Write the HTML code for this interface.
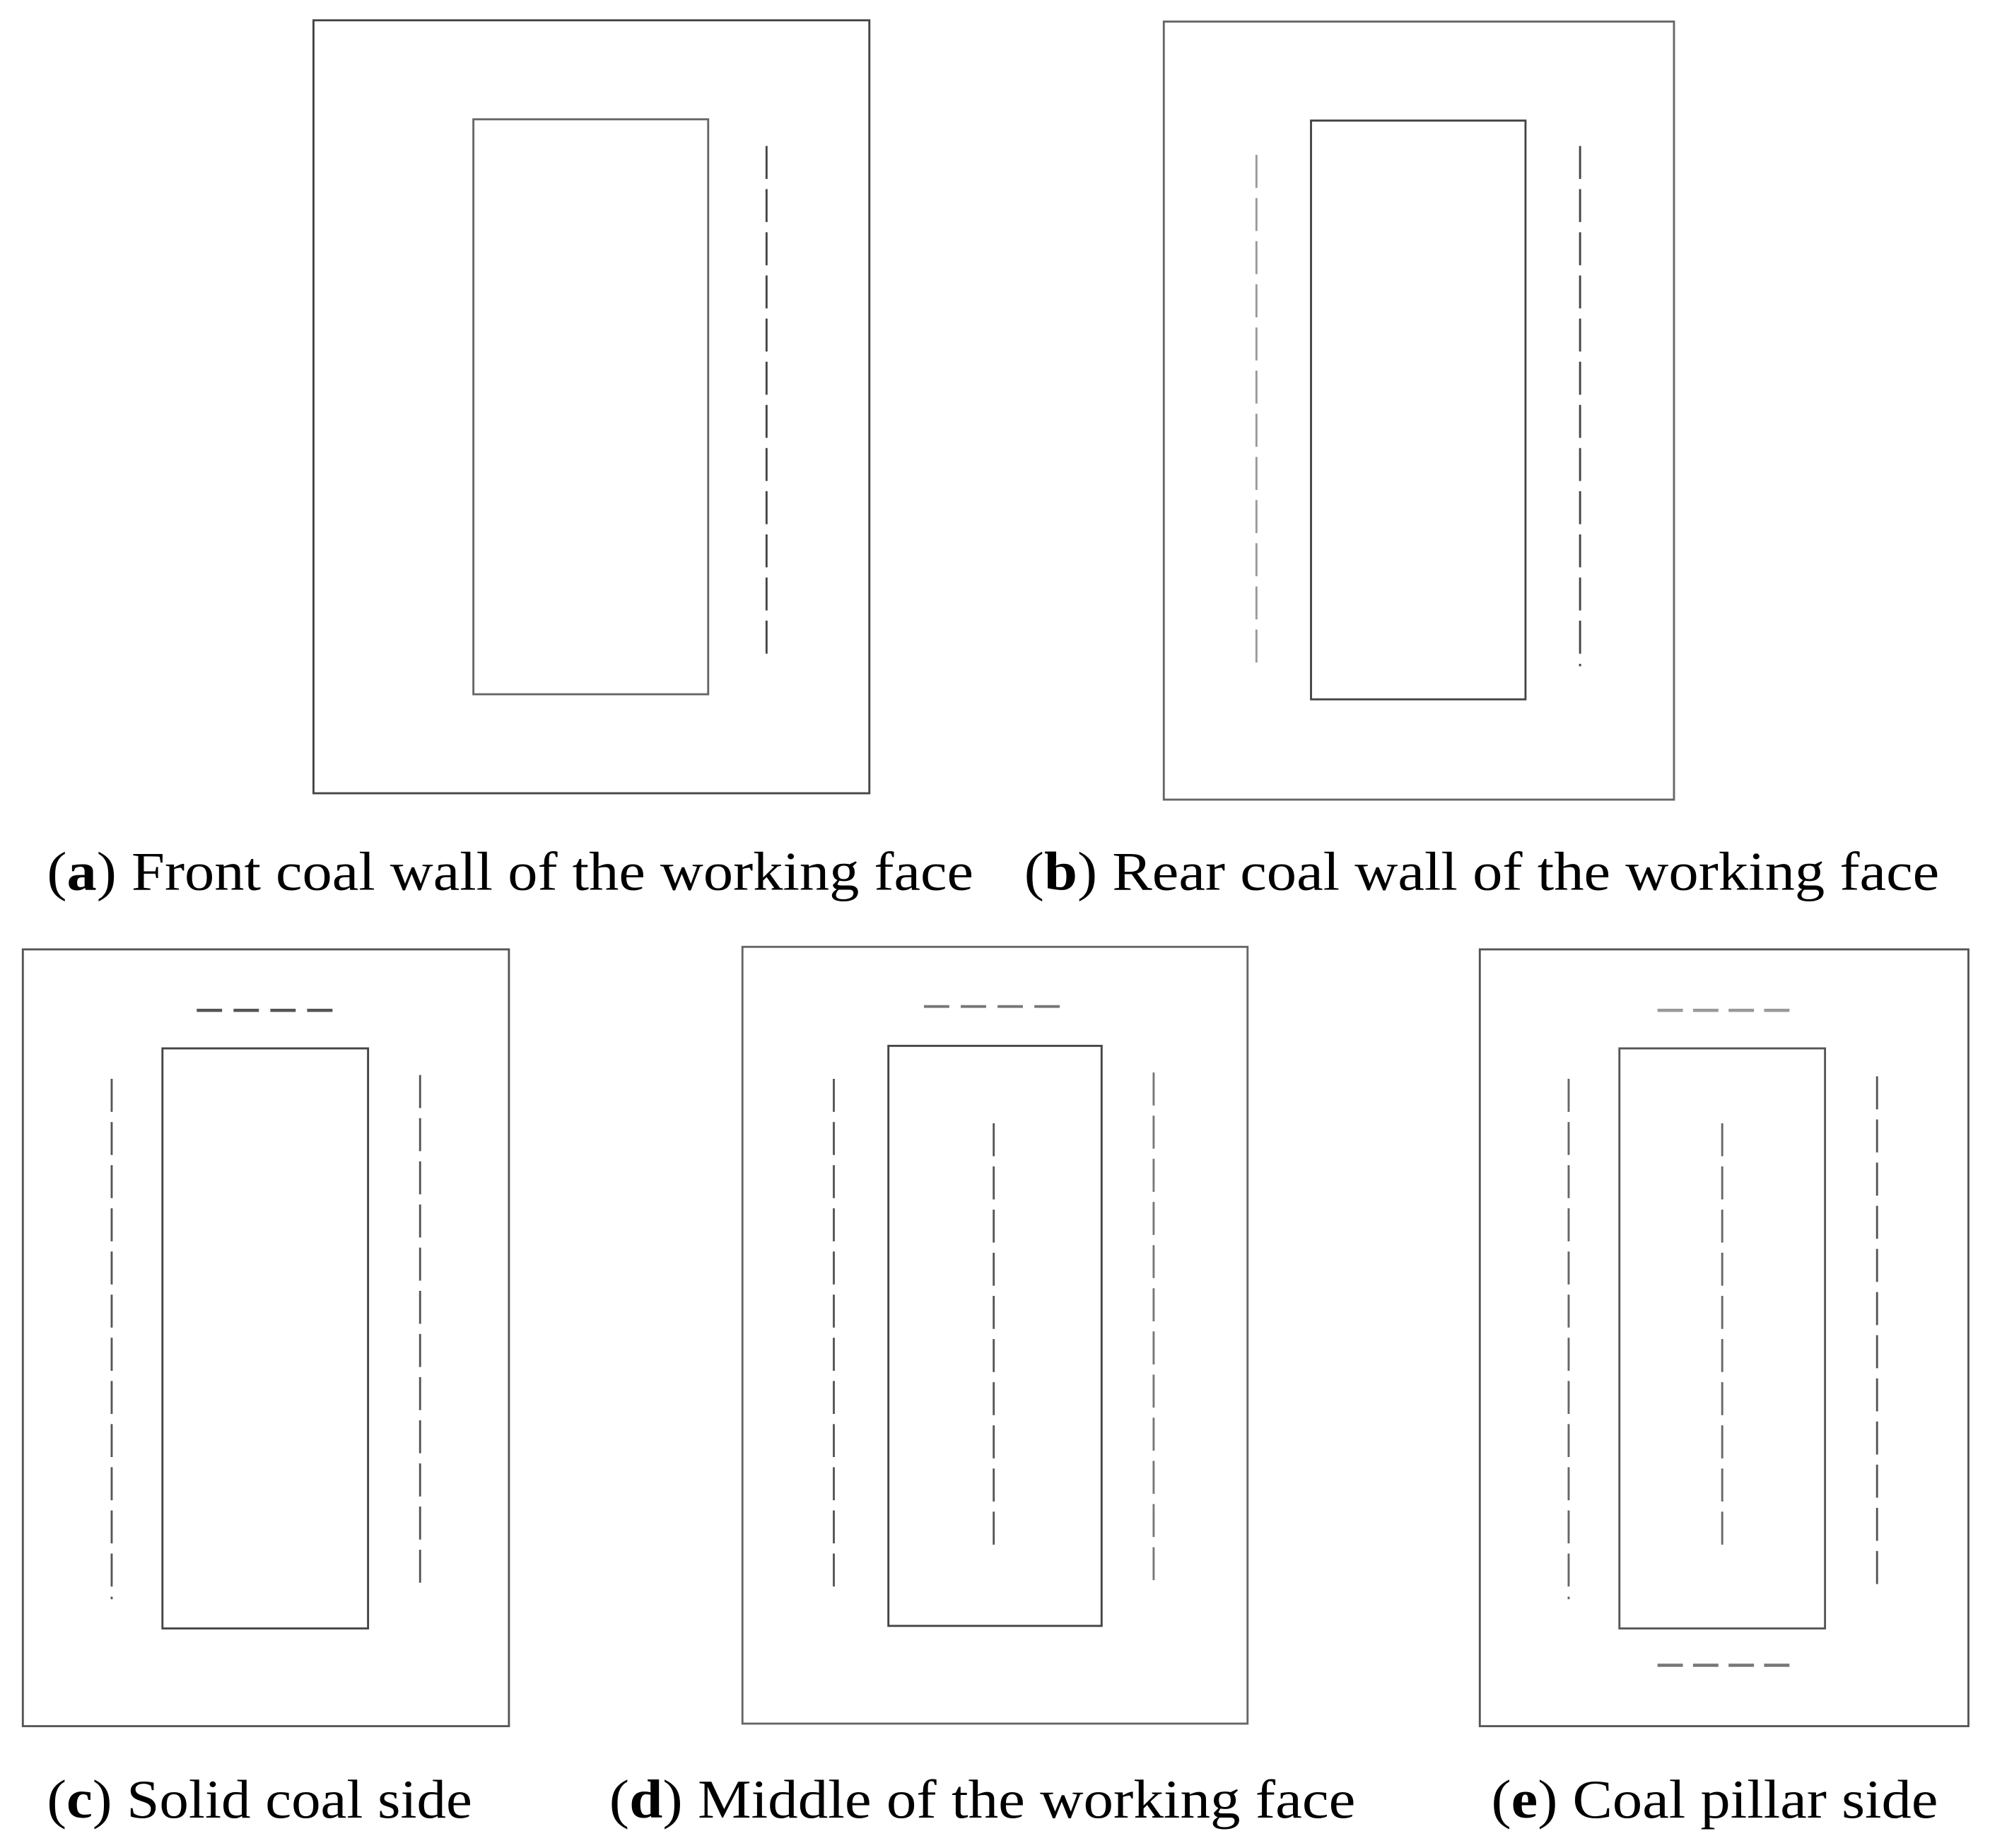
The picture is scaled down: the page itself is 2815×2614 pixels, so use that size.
<!DOCTYPE html>
<html><head><meta charset="utf-8"><style>html,body{margin:0;padding:0;background:#fff}svg{display:block}</style></head>
<body>
<svg xmlns="http://www.w3.org/2000/svg" width="2815" height="2614" viewBox="0 0 1568 1456" preserveAspectRatio="none">
<g fill="none" stroke-width="1.6">
<!-- a -->
<rect x="247" y="16" width="438" height="609" stroke="#444"/>
<rect x="373" y="94" width="185" height="453" stroke="#666"/>
<line x1="604" y1="115" x2="604" y2="521" stroke="#444" stroke-dasharray="26 8"/>
<!-- b -->
<rect x="917" y="17" width="402" height="613" stroke="#666"/>
<rect x="1033" y="95" width="169" height="456" stroke="#444"/>
<line x1="990" y1="122" x2="990" y2="528" stroke="#999" stroke-dasharray="26 8"/>
<line x1="1245" y1="115" x2="1245" y2="525" stroke="#444" stroke-dasharray="26 8"/>
<!-- c -->
<rect x="18" y="748" width="383" height="612" stroke="#555"/>
<rect x="128" y="826" width="162" height="457" stroke="#444"/>
<line x1="155" y1="796" x2="262" y2="796" stroke="#555" stroke-width="2.5" stroke-dasharray="20 9"/>
<line x1="88" y1="850" x2="88" y2="1260" stroke="#555" stroke-dasharray="26 8"/>
<line x1="331" y1="847" x2="331" y2="1255" stroke="#555" stroke-dasharray="26 8"/>
<!-- d -->
<rect x="585" y="746" width="398" height="612" stroke="#666"/>
<rect x="700" y="824" width="168" height="457" stroke="#444"/>
<line x1="728" y1="793" x2="838" y2="793" stroke="#777" stroke-width="2.2" stroke-dasharray="20 9"/>
<line x1="657" y1="850" x2="657" y2="1258" stroke="#555" stroke-dasharray="26 8"/>
<line x1="909" y1="845" x2="909" y2="1253" stroke="#777" stroke-dasharray="26 8"/>
<line x1="783" y1="885" x2="783" y2="1220" stroke="#555" stroke-dasharray="26 8"/>
<!-- e -->
<rect x="1166" y="748" width="385" height="612" stroke="#555"/>
<rect x="1276" y="826" width="162" height="457" stroke="#555"/>
<line x1="1306" y1="796" x2="1410" y2="796" stroke="#999" stroke-width="2.5" stroke-dasharray="20 8"/>
<line x1="1306" y1="1312" x2="1410" y2="1312" stroke="#777" stroke-width="2.5" stroke-dasharray="20 8"/>
<line x1="1236" y1="850" x2="1236" y2="1260" stroke="#666" stroke-dasharray="26 8"/>
<line x1="1479" y1="848" x2="1479" y2="1255" stroke="#555" stroke-dasharray="26 8"/>
<line x1="1357" y1="885" x2="1357" y2="1220" stroke="#666" stroke-dasharray="26 8"/>
</g>
<g font-family="Liberation Serif, serif" font-size="43" fill="#000">
<text x="37" y="701" textLength="730" lengthAdjust="spacingAndGlyphs">(<tspan font-weight="bold">a</tspan>) Front coal wall of the working face</text>
<text x="807" y="701" textLength="721" lengthAdjust="spacingAndGlyphs">(<tspan font-weight="bold">b</tspan>) Rear coal wall of the working face</text>
<text x="37" y="1432" textLength="335" lengthAdjust="spacingAndGlyphs">(<tspan font-weight="bold">c</tspan>) Solid coal side</text>
<text x="480" y="1432" textLength="588" lengthAdjust="spacingAndGlyphs">(<tspan font-weight="bold">d</tspan>) Middle of the working face</text>
<text x="1175" y="1432" textLength="352" lengthAdjust="spacingAndGlyphs">(<tspan font-weight="bold">e</tspan>) Coal pillar side</text>
</g>
</svg>
</body></html>
